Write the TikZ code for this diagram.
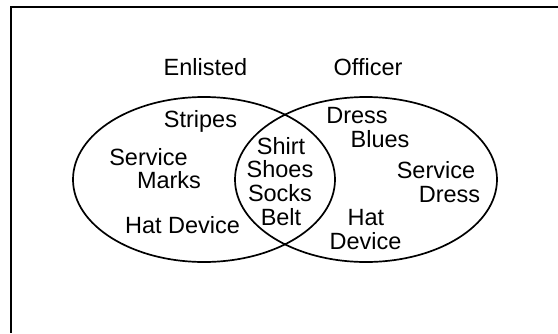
\documentclass[tikz,border=0pt]{standalone}
\usepackage{fontspec}
\setmainfont{Liberation Sans}
\begin{document}
\begin{tikzpicture}[x=1pt,y=-1pt,
  lbl/.style={anchor=base,inner sep=0pt,font=\fontsize{23.5}{27}\selectfont},
  setline/.style={line width=1.7pt}]
\useasboundingbox (0,0) rectangle (558,333);
\coordinate (tr) at (558,7);
\coordinate (tl) at (11,7);
\coordinate (bl) at (11,333);
\draw[line width=1.4pt, line cap=butt] (tr) -- (tl) -- (bl);
\coordinate (cl) at (204,179.5);
\coordinate (cr) at (366,179.5);
\draw[setline] (cl) ellipse [x radius=131, y radius=82.5];
\draw[setline] (cr) ellipse [x radius=131, y radius=82.5];
% titles
\node[lbl] (enl) at (205.5,75) {Enlisted};
\node[lbl] (off) at (368,75) {Officer};
% left only
\node[lbl] (stripes) at (200.5,127) {Stripes};
\node[lbl] (serv1) at (148.5,165) {Service};
\node[lbl] (marks) at (169,188) {Marks};
\node[lbl] (hatdev) at (182.5,233) {Hat Device};
% intersection
\node[lbl] (shirt) at (281,154) {Shirt};
\node[lbl] (shoes) at (280,177) {Shoes};
\node[lbl] (socks) at (280,201) {Socks};
\node[lbl] (belt) at (281,225) {Belt};
% right only
\node[lbl] (dress1) at (357,123) {Dress};
\node[lbl] (blues) at (380,147) {Blues};
\node[lbl] (serv2) at (436,178) {Service};
\node[lbl] (dress2) at (449.5,202) {Dress};
\node[lbl] (hat) at (366,225) {Hat};
\node[lbl] (device) at (365.5,249) {Device};
\end{tikzpicture}
\end{document}
